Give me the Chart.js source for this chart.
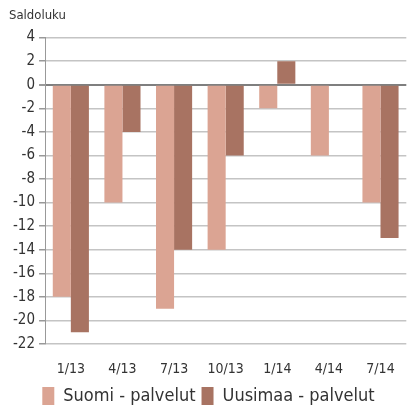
<!DOCTYPE html>
<html>
<head>
<meta charset="utf-8">
<script src="https://cdn.jsdelivr.net/npm/chart.js@4"></script>
<style>
  html, body { margin: 0; padding: 0; background: #fff; }
  #wrap { width: 413px; height: 411px; }
</style>
</head>
<body>
<div id="wrap"><canvas id="chart"></canvas></div>
<script>
// quarters shown on the x axis
const categories = ['1/13', '4/13', '7/13', '10/13', '1/14', '4/14', '7/14'];
// balance figures
const suomiValues = [-18, -10, -19, -14, -2, -6, -10];
const uusimaaValues = [-21, -4, -14, -6, 2, 0, -13];
const seriesNames = ['Suomi - palvelut', 'Uusimaa - palvelut'];

const FONT = '"Liberation Sans Narrow", "DejaVu Sans Condensed", "Liberation Sans", sans-serif';

new Chart(document.getElementById('chart').getContext('2d'), {
    type: 'bar',
    data: {
        labels: categories,
        datasets: [
            {
                label: seriesNames[0],
                data: suomiValues,
                backgroundColor: '#dba493',
            },
            {
                label: seriesNames[1],
                data: uusimaaValues,
                backgroundColor: '#a87362',
            },
        ],
    },
    options: {
        responsive: true,
        maintainAspectRatio: false,
        animation: false,
        layout: { padding: { left: 9, right: 5, top: 0, bottom: 0 } },
        datasets: {
            bar: { categoryPercentage: 0.7, barPercentage: 1.0 },
        },
        scales: {
            x: {
                grid: { display: false, drawTicks: false },
                border: { display: false },
                ticks: { color: '#333', font: { family: FONT, size: 14, lineHeight: 1 }, padding: 18 },
                // keep the label band a fixed height so the legend sits close under it
                afterFit: (scale) => { scale.height = 37; },
            },
            y: {
                min: -22,
                max: 4,
                ticks: {
                    stepSize: 2,
                    color: '#333',
                    font: { family: FONT, size: 15 },
                    padding: 4,
                },
                grid: {
                    color: (ctx) => (ctx.tick && ctx.tick.value === 0 ? '#7f7f7f' : '#c4c4c4'),
                    lineWidth: (ctx) => (ctx.tick && ctx.tick.value === 0 ? 2 : 1.5),
                    tickLength: 6,
                    tickColor: '#999',
                },
                border: { display: true, color: '#999', width: 1 },
            },
        },
        plugins: {
            title: {
                display: true,
                text: 'Saldoluku',
                align: 'start',
                color: '#333',
                font: { family: FONT, size: 13, weight: 'normal' },
                padding: { top: 8, bottom: 14 },
            },
            legend: {
                position: 'bottom',
                maxHeight: 30,
                labels: {
                    color: '#333',
                    font: { family: FONT, size: 18, lineHeight: 1 },
                    boxWidth: 12,
                    boxHeight: 18,
                    padding: 6,
                },
            },
            tooltip: { enabled: false },
        },
    },
});
</script>
</body>
</html>
